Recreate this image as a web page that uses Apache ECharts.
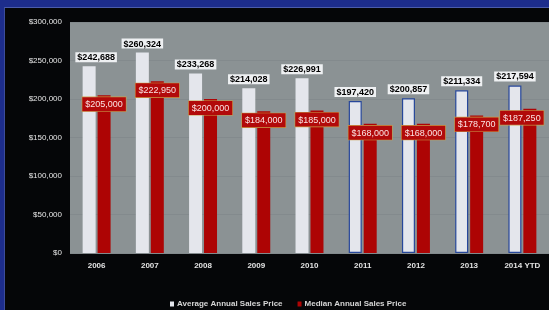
<!DOCTYPE html>
<html>
<head>
<meta charset="utf-8">
<script src="https://cdn.jsdelivr.net/npm/echarts@6/dist/echarts.min.js"></script>
<style>
html, body { margin: 0; padding: 0; width: 549px; height: 310px; overflow: hidden; background: #1d2d8c; }
#panel { position: absolute; left: 4px; top: 7px; right: 0; bottom: 0; background: #050608; border-top: 1px solid #4b5cab; border-left: 1px solid #3b4c9b; }
#chart { position: absolute; left: 0; top: 0; width: 549px; height: 310px; }
</style>
</head>
<body>
<div id="panel"></div>
<div id="chart"></div>
<script>
var years = ['2006', '2007', '2008', '2009', '2010', '2011', '2012', '2013', '2014 YTD'];
var avgPrice = [242688, 260324, 233268, 214028, 226991, 197420, 200857, 211334, 217594];
var medianPrice = [205000, 222950, 200000, 184000, 185000, 168000, 168000, 178700, 187250];
var yTicks = [0, 50000, 100000, 150000, 200000, 250000, 300000];

function money(v) {
    return '$' + Number(v).toLocaleString('en-US');
}

var chart = echarts.init(document.getElementById('chart'));

var avgData = avgPrice.map(function (v, i) {
    var d = { value: v };
    if (i >= 5) {
        d.itemStyle = { borderColor: '#27479a', borderWidth: 1.2 };
    }
    if (i == 0) {
        d.label = { offset: [7, 0] };
    }
    return d;
});

var medData = medianPrice.map(function (v, i) {
    var d = { value: v };
    if (i == years.length - 1) {
        d.label = { offset: [-8, 0] };
    }
    return d;
});

var option = {
    animation: false,
    textStyle: { fontFamily: 'Liberation Sans' },
    grid: {
        left: 70, top: 22, width: 482, height: 231,
        show: true, backgroundColor: '#8b9294', borderWidth: 0
    },
    legend: {
        left: 165, top: 295,
        itemWidth: 4, itemHeight: 5, itemGap: 15,
        icon: 'rect',
        textStyle: { color: '#d6d6d6', fontSize: 8, fontWeight: 'bold', padding: [0, 0, 0, -2] },
        data: ['Average Annual Sales Price', 'Median Annual Sales Price']
    },
    xAxis: {
        type: 'category',
        data: years,
        axisLine: { show: false },
        axisTick: { show: false },
        axisLabel: { color: '#e2e2e2', fontSize: 8, fontWeight: 'bold', margin: 9 }
    },
    yAxis: {
        type: 'value',
        min: yTicks[0],
        max: yTicks[yTicks.length - 1],
        interval: yTicks[1] - yTicks[0],
        axisLine: { show: false },
        axisTick: { show: false },
        splitLine: { lineStyle: { color: '#838a8d', width: 1 } },
        axisLabel: { color: '#e6e6e6', fontSize: 8, margin: 8, formatter: money }
    },
    series: [
        {
            name: 'Average Annual Sales Price',
            type: 'bar',
            barWidth: 13,
            barGap: '15%',
            data: avgData,
            itemStyle: { color: '#e4e6ec' },
            label: {
                show: true,
                position: 'top',
                distance: 4,
                formatter: function (p) { return money(p.value); },
                color: '#000',
                fontSize: 9,
                fontWeight: 'bold',
                backgroundColor: '#eef0f2',
                padding: [1, 2, 0, 2]
            }
        },
        {
            name: 'Median Annual Sales Price',
            type: 'bar',
            barWidth: 13,
            data: medData,
            itemStyle: { color: '#ad0404' },
            label: {
                show: true,
                position: 'insideTop',
                distance: 2,
                formatter: function (p) { return money(p.value); },
                color: '#fbe4e4',
                fontSize: 9,
                backgroundColor: '#b20a0a',
                borderColor: '#c9a14a',
                borderWidth: 0.6,
                padding: [3, 3, 2, 3]
            }
        }
    ]
};

chart.setOption(option);
</script>
</body>
</html>
